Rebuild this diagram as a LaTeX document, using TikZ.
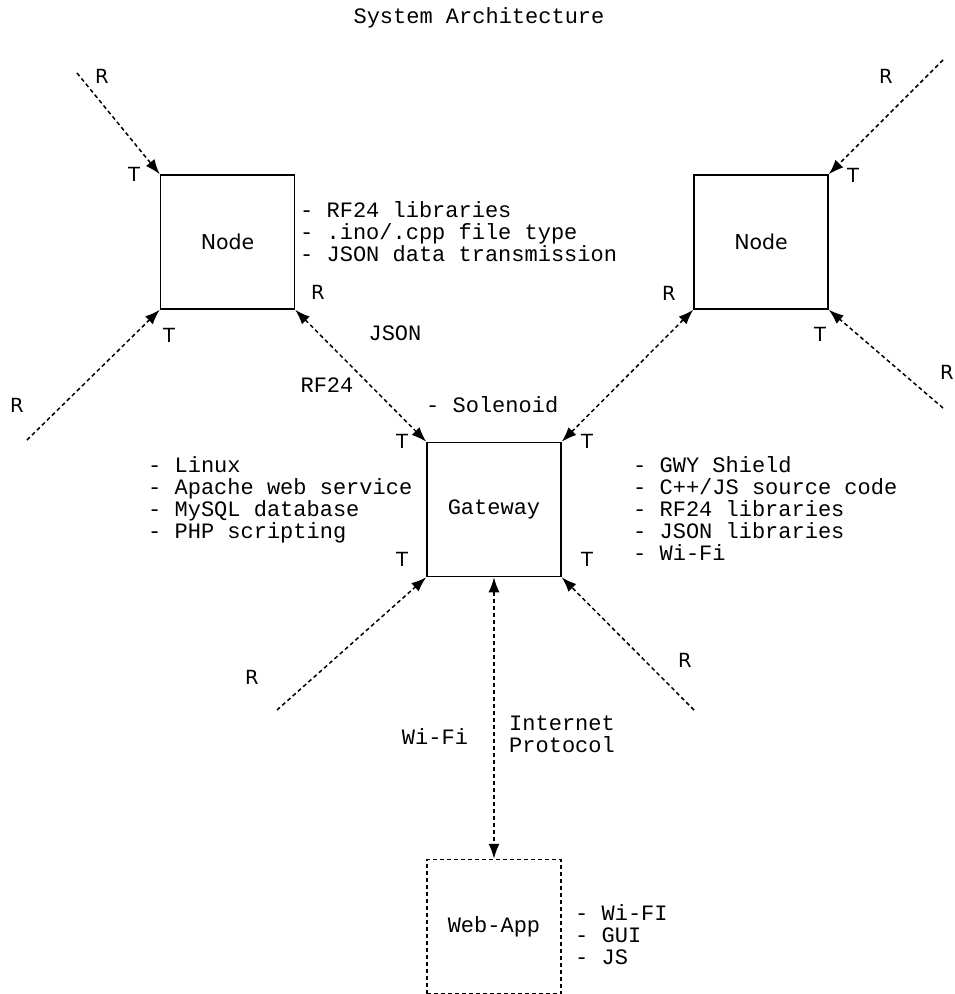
\documentclass[tikz,border=0pt]{standalone}
\usepackage{fontspec}
\setmainfont{Liberation Mono}
\newfontfamily\lblfont{DejaVu Sans}
\usetikzlibrary{arrows.meta}
\tikzset{
  box/.style={draw, line width=1.5pt, minimum width=134pt, minimum height=134pt, inner sep=0pt, font=\fontsize{20.5}{22}\selectfont\lblfont},
  gbox/.style={box, font=\fontsize{22}{22}\selectfont},
  wbox/.style={gbox, dash pattern=on 4pt off 3pt},
  link/.style={dash pattern=on 4pt off 3pt, line width=1.5pt, -{Latex[length=15pt,width=11pt]}},
  blink/.style={link, {Latex[length=15pt,width=11pt]}-{Latex[length=15pt,width=11pt]}},
  tr/.style={font=\fontsize{19.5}{22}\selectfont\lblfont, inner sep=0pt},
  mono/.style={font=\fontsize{22}{22}\selectfont, inner sep=0pt, align=left, anchor=west},
}
\begin{document}
\begin{tikzpicture}[x=1pt,y=-1pt]
\useasboundingbox (0,0) rectangle (954,994);
\node[font=\fontsize{22}{22}\selectfont, inner sep=0pt] (title) at (479,18) {System Architecture};

\node[box] (nl) at (227.5,242) {Node};
\node[box] (nr) at (761,242) {Node};
\node[gbox] (gw) at (494,509.5) {Gateway};
\node[wbox] (wa) at (494,926.5) {Web-App};

\coordinate (a1) at (77,73);
\coordinate (a2) at (27,440);
\coordinate (a3) at (943,60);
\coordinate (a4) at (943,408);
\coordinate (a5) at (277,710);
\coordinate (a6) at (694,710);

\draw[link] (a1) -- (nl.north west);
\draw[link] (a2) -- (nl.south west);
\draw[link] (a3) -- (nr.north east);
\draw[link] (a4) -- (nr.south east);
\draw[link] (a5) -- (gw.south west);
\draw[link] (a6) -- (gw.south east);
\draw[blink] (nl.south east) -- (gw.north west);
\draw[blink] (nr.south west) -- (gw.north east);
\draw[blink] (gw.south) -- (wa.north);

\node[tr] (r1) at (102,76) {R};
\node[tr] (t1) at (134,174) {T};
\node[tr] (r2) at (17,405) {R};
\node[tr] (t2) at (169,335) {T};
\node[tr] (r3) at (318,292) {R};
\node[tr] (t3) at (402,441) {T};
\node[tr] (r4) at (886,76) {R};
\node[tr] (t4) at (853,175) {T};
\node[tr] (r5) at (947,372) {R};
\node[tr] (t5) at (820,334) {T};
\node[tr] (r6) at (669,293) {R};
\node[tr] (t6) at (587,441) {T};
\node[tr] (r7) at (252,677) {R};
\node[tr] (t7) at (402,559) {T};
\node[tr] (t8) at (587,559) {T};
\node[tr] (r8) at (685,660) {R};

\node[mono, anchor=center] (json) at (395,333) {JSON};
\node[mono, anchor=center] (rf) at (327,385) {RF24};
\node[mono, anchor=center] (wifi) at (435,737) {Wi-Fi};
\node[mono] (ip) at (509,734) {Internet\\Protocol};

\node[mono] (nlist) at (300,232) {- RF24 libraries\\- .ino/.cpp file type\\- JSON data transmission};
\node[mono] (sol) at (426,405) {- Solenoid};
\node[mono] (llist) at (148,499.5) {- Linux\\- Apache web service\\- MySQL database\\- PHP scripting};
\node[mono] (rlist) at (633,509) {- GWY Shield\\- C++/JS source code\\- RF24 libraries\\- JSON libraries\\- Wi-Fi};
\node[mono] (wlist) at (575,935) {- Wi-FI\\- GUI\\- JS};
\end{tikzpicture}
\end{document}
